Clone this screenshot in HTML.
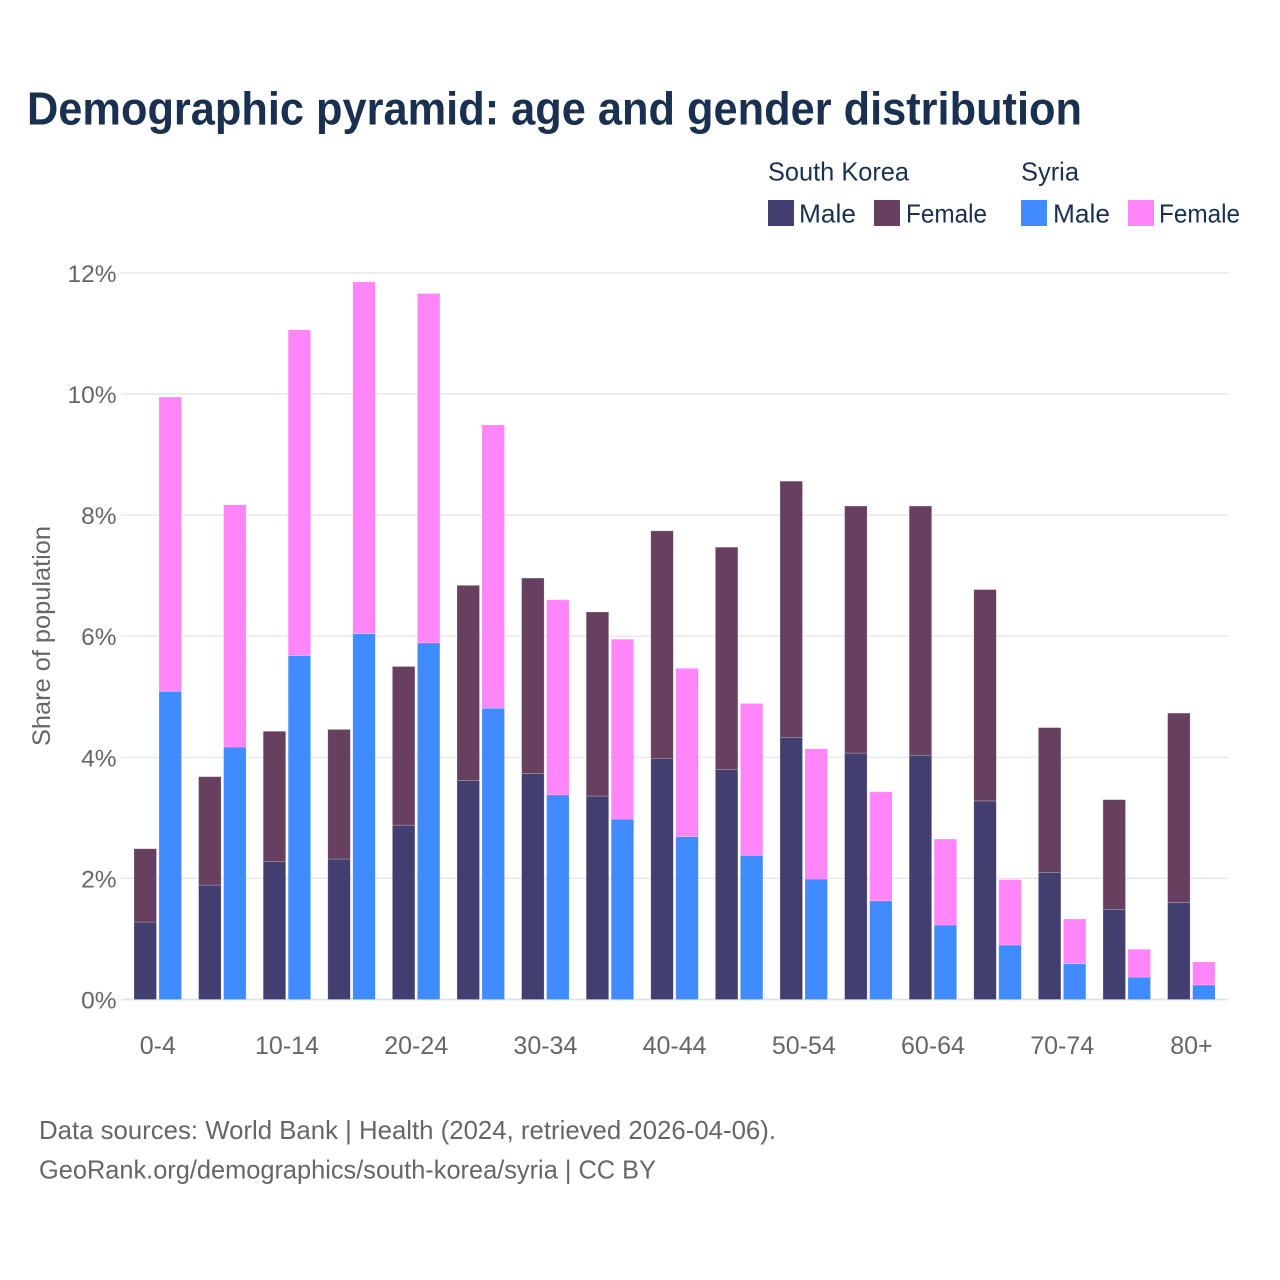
<!DOCTYPE html>
<html lang="en">
<head>
<meta charset="utf-8">
<title>Demographic pyramid</title>
<style>
html,body{margin:0;padding:0;background:#fff;}
svg{display:block;font-family:"Liberation Sans",sans-serif;}
</style>
</head>
<body>
<svg id="chart" width="1280" height="1280" viewBox="0 0 1280 1280" xmlns="http://www.w3.org/2000/svg">
  <rect x="0" y="0" width="1280" height="1280" fill="#ffffff"/>
  <text x="27" y="124.5" font-size="46" font-weight="700" fill="#1a3050" textLength="1055" lengthAdjust="spacingAndGlyphs">Demographic pyramid: age and gender distribution</text>

  <g font-size="26" fill="#1a3050">
    <text x="768" y="180.5" textLength="141" lengthAdjust="spacingAndGlyphs">South Korea</text>
    <text x="1021" y="180.5" textLength="58" lengthAdjust="spacingAndGlyphs">Syria</text>
    <rect x="768" y="200" width="26" height="26" fill="#423f70"/>
    <text x="799" y="222.5" textLength="57" lengthAdjust="spacingAndGlyphs">Male</text>
    <rect x="874" y="200" width="26" height="26" fill="#68405f"/>
    <text x="906" y="222.5" textLength="81" lengthAdjust="spacingAndGlyphs">Female</text>
    <rect x="1021" y="200" width="26" height="26" fill="#3f8bff"/>
    <text x="1053" y="222.5" textLength="57" lengthAdjust="spacingAndGlyphs">Male</text>
    <rect x="1128" y="200" width="26" height="26" fill="#ff85f9"/>
    <text x="1159" y="222.5" textLength="81" lengthAdjust="spacingAndGlyphs">Female</text>
  </g>

  <g id="grid"></g>
  <g id="yticks"></g>
  <g id="bars"></g>
  <g id="xticks"></g>

  <text transform="translate(50,746) rotate(-90)" font-size="25" fill="#666666" textLength="220" lengthAdjust="spacingAndGlyphs">Share of population</text>

  <text x="39" y="1139" font-size="26" fill="#666666" textLength="737" lengthAdjust="spacingAndGlyphs">Data sources: World Bank | Health (2024, retrieved 2026-04-06).</text>
  <text x="39" y="1178.5" font-size="26" fill="#666666" textLength="617" lengthAdjust="spacingAndGlyphs">GeoRank.org/demographics/south-korea/syria | CC BY</text>
</svg>
<script>
var ageGroups = ['0-4','5-9','10-14','15-19','20-24','25-29','30-34','35-39','40-44','45-49','50-54','55-59','60-64','65-69','70-74','75-79','80+'];
var xTickLabels = ['0-4','','10-14','','20-24','','30-34','','40-44','','50-54','','60-64','','70-74','','80+'];
var yTickValues = [0,2,4,6,8,10,12];
var southKoreaMale = [1.28,1.89,2.28,2.32,2.88,3.62,3.73,3.36,3.98,3.80,4.33,4.07,4.03,3.28,2.10,1.49,1.60];
var southKoreaFemale = [1.21,1.79,2.15,2.14,2.62,3.22,3.23,3.04,3.76,3.67,4.23,4.08,4.12,3.49,2.39,1.81,3.13];
var syriaMale = [5.09,4.17,5.68,6.04,5.89,4.81,3.38,2.98,2.69,2.38,1.99,1.63,1.23,0.90,0.59,0.37,0.24];
var syriaFemale = [4.86,4.00,5.38,5.81,5.77,4.68,3.22,2.97,2.78,2.51,2.15,1.80,1.42,1.08,0.74,0.46,0.38];

var NS = 'http://www.w3.org/2000/svg';
function yScale(v){ return 999.5 - v * 60.55; }
function xScale(i){ return 157.5 + i * 64.6; }
var barW = 22.5, barGap = 2.5;

function make(tag, attrs, parent){
  var el = document.createElementNS(NS, tag);
  for (var k in attrs) el.setAttribute(k, attrs[k]);
  parent.appendChild(el);
  return el;
}

var grid = document.getElementById('grid');
var yticks = document.getElementById('yticks');
yTickValues.forEach(function(v){
  var line = make('line', {x1:121, x2:1228, y1:yScale(v), y2:yScale(v), stroke:'#e4e4e4', 'stroke-width': v === 0 ? 2 : 1.2}, grid);
  
  
  var t = make('text', {x:116.5, y:yScale(v) + 9, 'text-anchor':'end', 'font-size':24.5, fill:'#666666'}, yticks);
  
  
  t.textContent = v + '%';
});

var bars = document.getElementById('bars');
function drawBar(x, base, val, color, name){
  var top = yScale(base + val), bottom = yScale(base);
  var r = make('rect', {x:x, y:top, width:barW, height:bottom - top, fill:color, stroke:'#ffffff', 'stroke-opacity':0.35, 'stroke-width':0.6}, bars);
  
  
}
ageGroups.forEach(function(age, i){
  var cx = xScale(i);
  var x1 = cx - barW - barGap / 2 + 0.25;
  var x2 = cx + barGap / 2 + 0.25;
  drawBar(x1, 0, southKoreaMale[i], '#423f70', 'bar-south-korea-male-' + age);
  drawBar(x1, southKoreaMale[i], southKoreaFemale[i], '#68405f', 'bar-south-korea-female-' + age);
  drawBar(x2, 0, syriaMale[i], '#3f8bff', 'bar-syria-male-' + age);
  drawBar(x2, syriaMale[i], syriaFemale[i], '#ff85f9', 'bar-syria-female-' + age);
});

var xticks = document.getElementById('xticks');
xTickLabels.forEach(function(label, i){
  if (!label) return;
  var t = make('text', {x:xScale(i) + 0.3, y:1054, 'text-anchor':'middle', 'font-size':25, fill:'#666666'}, xticks);
  
  
  t.textContent = label;
});
</script>
</body>
</html>
